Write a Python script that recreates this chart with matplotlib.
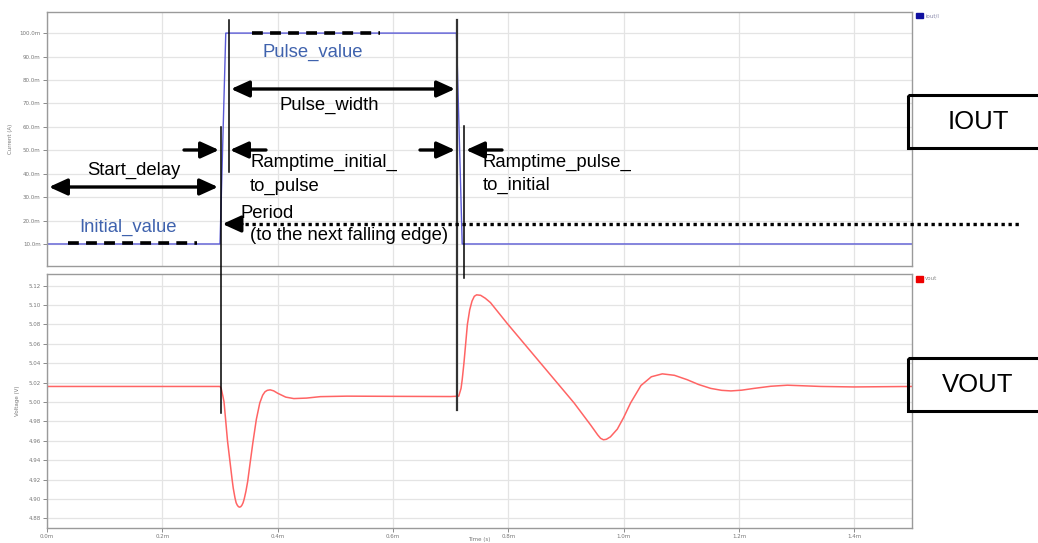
import matplotlib
matplotlib.use('Agg')
import matplotlib.pyplot as plt
from matplotlib.patches import Rectangle
from matplotlib.ticker import FuncFormatter

# --- data (time in ms) ---
iout_t = [0.0, 0.300, 0.310, 0.710, 0.720, 1.500]
iout_ma = [10.0, 10.0, 100.0, 100.0, 10.0, 10.0]

vout_t = [0.000, 0.300, 0.302, 0.305, 0.307, 0.310, 0.313, 0.317, 0.321, 0.323,
          0.326, 0.328, 0.330, 0.332, 0.334, 0.336, 0.338, 0.340, 0.342, 0.345,
          0.348, 0.352, 0.357, 0.363, 0.369, 0.374, 0.378, 0.382, 0.387, 0.393,
          0.400, 0.414, 0.428, 0.450, 0.474, 0.520, 0.600, 0.700, 0.714, 0.718,
          0.720, 0.723, 0.729, 0.733, 0.737, 0.741, 0.745, 0.752, 0.760, 0.769,
          0.798, 0.856, 0.914, 0.943, 0.955, 0.960, 0.965, 0.970, 0.977, 0.989,
          1.000, 1.012, 1.030, 1.048, 1.067, 1.088, 1.110, 1.130, 1.151, 1.170,
          1.186, 1.205, 1.226, 1.255, 1.284, 1.342, 1.399, 1.500]
vout_v = [5.016, 5.016, 5.014, 5.006, 5.000, 4.980, 4.960, 4.940, 4.920, 4.911,
          4.901, 4.896, 4.8935, 4.892, 4.8915, 4.892, 4.8935, 4.896, 4.900, 4.908,
          4.918, 4.936, 4.958, 4.982, 4.999, 5.007, 5.0105, 5.012, 5.0125, 5.0115,
          5.009, 5.005, 5.0035, 5.004, 5.0055, 5.006, 5.0058, 5.0056, 5.006, 5.014,
          5.023, 5.040, 5.080, 5.095, 5.104, 5.109, 5.1105, 5.110, 5.107, 5.1025,
          5.081, 5.040, 4.999, 4.976, 4.966, 4.9625, 4.961, 4.9615, 4.964, 4.972,
          4.984, 4.999, 5.017, 5.026, 5.029, 5.0275, 5.023, 5.018, 5.014, 5.012,
          5.0114, 5.0122, 5.014, 5.0162, 5.0173, 5.016, 5.0155, 5.016]

x_ticks = [0.0, 0.2, 0.4, 0.6, 0.8, 1.0, 1.2, 1.4]
i_ticks = [10, 20, 30, 40, 50, 60, 70, 80, 90, 100]
v_ticks = [4.88, 4.90, 4.92, 4.94, 4.96, 4.98, 5.00, 5.02, 5.04, 5.06, 5.08, 5.10, 5.12]

W, H = 1038, 543
fig = plt.figure(figsize=(W / 100, H / 100), dpi=100)

tick_col = '#777777'
grid_col = '#e4e4e4'
spine_col = '#9a9a9a'


def style_axes(ax):
    for s in ax.spines.values():
        s.set_color(spine_col)
        s.set_linewidth(1.0)
    ax.tick_params(colors=tick_col, labelsize=4, length=3, width=0.6, pad=1.5)
    ax.grid(True, color=grid_col, lw=0.9)
    ax.set_axisbelow(True)


# --- IOUT panel ---
ax1 = fig.add_axes([47 / W, 1 - 266 / H, 865 / W, 254 / H])
ax1.plot(iout_t, iout_ma, color='#5a5ad6', lw=1.0)
ax1.set_xlim(0, 1.5)
ax1.set_ylim(0.6, 109.0)
ax1.set_xticks(x_ticks)
ax1.set_yticks(i_ticks)
ax1.yaxis.set_major_formatter(FuncFormatter(lambda v, p: '%.1fm' % v))
style_axes(ax1)
ax1.tick_params(axis='x', length=0, labelbottom=False)
ax1.set_ylabel('Current (A)', fontsize=4, color=tick_col, labelpad=5)

# --- VOUT panel ---
ax2 = fig.add_axes([47 / W, 1 - 528 / H, 865 / W, 254 / H])
ax2.plot(vout_t, vout_v, color='#ff6464', lw=1.1)
ax2.set_xlim(0, 1.5)
ax2.set_ylim(4.870, 5.132)
ax2.set_xticks(x_ticks)
ax2.set_yticks(v_ticks)
ax2.xaxis.set_major_formatter(FuncFormatter(lambda v, p: '%.1fm' % v))
ax2.yaxis.set_major_formatter(FuncFormatter(lambda v, p: '%.2f' % v))
style_axes(ax2)
ax2.set_ylabel('Voltage (V)', fontsize=4, color=tick_col, labelpad=6)

# --- overlay in pixel coordinates for the annotation drawing ---
ov = fig.add_axes([0, 0, 1, 1], zorder=10)
ov.set_xlim(0, W)
ov.set_ylim(H, 0)
ov.axis('off')
ov.patch.set_alpha(0)

# x axis title sits just under the tick labels, like the reference
ov.text(479, 539.5, 'Time (s)', fontsize=4, color=tick_col, ha='center', va='center')

# legends
ov.add_patch(Rectangle((916, 13), 7, 5, color='#1010a0'))
ov.text(925, 15.5, 'iout/I', fontsize=4, color='#8888aa', va='center')
ov.add_patch(Rectangle((916, 276), 7, 6, color='#ee0000'))
ov.text(925, 279, 'vout', fontsize=4, color='#888888', va='center')

fnt = dict(family=['Liberation Sans', 'DejaVu Sans'], fontsize=13.3)
blue = '#3f62ad'

# vertical marker lines
ov.plot([229, 229], [20, 172], color='k', lw=1.1)
ov.plot([220.5, 220.5], [127, 413], color='k', lw=1.1)
ov.plot([456.7, 456.7], [20, 410], color='#333333', lw=1.6)
ov.plot([464.3, 464.3], [126, 278], color='k', lw=1.1)

# dashed value markers
ov.plot([252, 380], [33, 33], color='k', lw=2.6, ls=(0, (3, 2)))
ov.plot([68, 197], [243, 243], color='k', lw=2.6, ls=(0, (3, 2)))
ov.plot([238, 1022], [224, 224], color='k', lw=2.4, ls=(0, (1, 1.1)))


def arrow(x0, y0, x1, y1, style='-|>'):
    ov.annotate('', xy=(x1, y1), xytext=(x0, y0),
                arrowprops=dict(arrowstyle=style + ',head_length=1.1,head_width=0.5',
                                mutation_scale=10, lw=2.4, color='k',
                                shrinkA=0, shrinkB=0))


arrow(49, 187, 218, 187, '<|-|>')
arrow(231, 89, 455, 89, '<|-|>')
arrow(184, 150, 219, 150)
arrow(266, 150, 230, 150)
arrow(420, 150, 455, 150)
arrow(502, 150, 466, 150)
arrow(242, 224, 222.5, 224)

# labels
ov.text(313, 52, 'Pulse_value', color=blue, ha='center', va='center', **fnt)
ov.text(329, 105, 'Pulse_width', color='k', ha='center', va='center', **fnt)
ov.text(134, 170, 'Start_delay', color='k', ha='center', va='center', **fnt)
ov.text(128, 227, 'Initial_value', color=blue, ha='center', va='center', **fnt)
ov.text(250, 162, 'Ramptime_initial_', color='k', ha='left', va='center', **fnt)
ov.text(250, 186, 'to_pulse', color='k', ha='left', va='center', **fnt)
ov.text(483, 162, 'Ramptime_pulse_', color='k', ha='left', va='center', **fnt)
ov.text(483, 185, 'to_initial', color='k', ha='left', va='center', **fnt)
ov.text(240, 213, 'Period', color='k', ha='left', va='center', **fnt)
ov.text(250, 236, '(to the next falling edge)', color='k', ha='left', va='center', **fnt)

# signal name boxes
ov.add_patch(Rectangle((908, 95), 140, 53, fill=False, ec='k', lw=2.2, clip_on=False))
ov.text(978, 122, 'IOUT', ha='center', va='center',
        family=['Liberation Sans', 'DejaVu Sans'], fontsize=18.5)
ov.add_patch(Rectangle((908, 358), 140, 53, fill=False, ec='k', lw=2.2, clip_on=False))
ov.text(978, 385, 'VOUT', ha='center', va='center',
        family=['Liberation Sans', 'DejaVu Sans'], fontsize=18.5)

fig.savefig('out.png', dpi=100)
